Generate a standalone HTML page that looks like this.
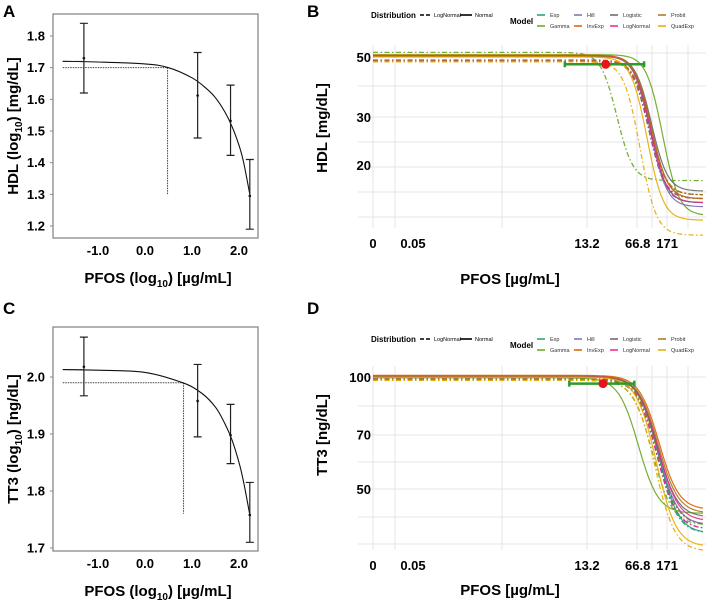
<!DOCTYPE html>
<html><head><meta charset="utf-8"><style>
html,body{margin:0;padding:0;background:#fff;}
svg{display:block;font-family:"Liberation Sans",Arial,sans-serif;}
</style></head><body>
<svg id="fig" width="708" height="600" viewBox="0 0 708 600" xmlns="http://www.w3.org/2000/svg">
<g id="pA"></g>
<g id="pB"></g>
<g id="pC"></g>
<g id="pD"></g>
</svg>
<script>
// ---------- Panel A / C data ----------
const aDoseLog = [-1.3, 1.12, 1.82, 2.23];
const aMean = [1.73, 1.612, 1.532, 1.295];
const aLow = [1.62, 1.478, 1.423, 1.19];
const aHigh = [1.84, 1.748, 1.645, 1.41];
const aCurveX = [-1.75, -1.0, 0.0, 0.5, 1.0, 1.3, 1.5, 1.7, 1.85, 2.0, 2.1, 2.23];
const aCurveY = [1.72, 1.718, 1.712, 1.70, 1.668, 1.635, 1.605, 1.56, 1.515, 1.455, 1.40, 1.30];
const aBmd = 0.48, aBmdY = 1.70, aTopY = 1.72, aBmdLow = 1.30;
const aYTicks = [1.2, 1.3, 1.4, 1.5, 1.6, 1.7, 1.8];
const xTicksLog = [-1.0, 0.0, 1.0, 2.0];

const cDoseLog = [-1.3, 1.12, 1.82, 2.23];
const cMean = [2.018, 1.958, 1.898, 1.758];
const cLow = [1.967, 1.895, 1.848, 1.71];
const cHigh = [2.07, 2.022, 1.952, 1.815];
const cCurveX = [-1.75, -1.0, 0.0, 0.8, 1.2, 1.5, 1.7, 1.85, 2.0, 2.1, 2.23];
const cCurveY = [2.013, 2.012, 2.008, 1.99, 1.972, 1.947, 1.918, 1.89, 1.85, 1.815, 1.758];
const cBmd = 0.82, cBmdY = 1.99, cTopY = 2.013, cBmdLow = 1.76;
const cYTicks = [1.7, 1.8, 1.9, 2.0];

// ---------- Panel B / D data ----------
const models = ["Exp","Gamma","Hill","InvExp","Logistic","LogNormal","Probit","QuadExp"];
const modelColors = ["#1b9e77","#66a61e","#7570b3","#d95f02","#666666","#e7298a","#a6761d","#e6ab02"];
const bTopN = [50.5, 51, 50.5, 50.8, 50.3, 50.6, 50.4, 50];
const bBotN = [14.5, 13, 14, 15, 16, 14.5, 15, 12.5];
const bMidN = [85, 125, 86, 88, 90, 86, 89, 76];
const bTopL = [48.5, 52, 48.5, 48.8, 48.3, 48.5, 48.4, 48];
const bBotL = [15, 17.5, 14.5, 15.5, 15.5, 15, 15.5, 11];
const bMidL = [82, 30, 84, 85, 86, 83, 85, 60];
const bBmd = 24, bBmdL = 6.5, bBmdU = 82, bBmdV = 47;
const bYTicks = [20, 30, 50];

const dTopN = [100, 99.5, 100.5, 101, 100, 100.5, 100.2, 99.8];
const dBotN = [38, 43, 40, 44, 42, 41, 43, 35];
const dMidN = [112, 60, 110, 116, 110, 112, 113, 103];
const dTopL = [98.5, 98, 98.5, 99, 98.5, 98.8, 98.5, 98];
const dBotL = [38, 40, 39, 40, 40, 39, 40, 34];
const dMidL = [108, 93, 106, 110, 108, 106, 108, 98];
const dBmd = 22, dBmdL = 7.5, dBmdU = 60, dBmdV = 96;
const dYTicks = [50, 70, 100];

const doseTicks = [0, 0.05, 13.2, 66.8, 171];
const doseTickLabels = ["0", "0.05", "13.2", "66.8", "171"];

// ---------- helpers ----------
const NS = "http://www.w3.org/2000/svg";
function el(parent, tag, attrs, text){
  const e = document.createElementNS(NS, tag);
  for (const k in attrs) e.setAttribute(k, attrs[k]);
  if (text !== undefined) e.textContent = text;
  parent.appendChild(e); return e;
}
function smoothPath(pts){
  let d = "M" + pts[0][0].toFixed(1) + "," + pts[0][1].toFixed(1);
  for (let i = 0; i < pts.length - 1; i++){
    const p0 = pts[Math.max(0,i-1)], p1 = pts[i], p2 = pts[i+1], p3 = pts[Math.min(pts.length-1,i+2)];
    const c1 = [p1[0]+(p2[0]-p0[0])/6, p1[1]+(p2[1]-p0[1])/6];
    const c2 = [p2[0]-(p3[0]-p1[0])/6, p2[1]-(p3[1]-p1[1])/6];
    d += " C"+c1[0].toFixed(1)+","+c1[1].toFixed(1)+" "+c2[0].toFixed(1)+","+c2[1].toFixed(1)+" "+p2[0].toFixed(1)+","+p2[1].toFixed(1);
  }
  return d;
}

function drawLeft(g, cfg){
  const x = v => 145 + v * 47;
  const y = v => cfg.y0 + (cfg.v0 - v) * cfg.k;
  let t = el(g,"text",{x:3,y:cfg.labY,"font-size":17,"font-weight":"bold"},cfg.letter);
  
  
  let f = el(g,"rect",{x:53,y:cfg.top,width:205,height:cfg.bot-cfg.top,fill:"none",stroke:"#888","stroke-width":1.3});
  
  
  cfg.yTicks.forEach(v=>{
    const tt = el(g,"text",{x:45,y:y(v)+4.5,"font-size":13,"font-weight":"bold","text-anchor":"end"},v.toFixed(1));
    
    
    el(g,"line",{x1:50,x2:53,y1:y(v),y2:y(v),stroke:"#888"});
  });
  xTicksLog.forEach(v=>{
    const tt = el(g,"text",{x:x(v),y:cfg.bot+17,"font-size":13,"font-weight":"bold","text-anchor":"middle"},v.toFixed(1));
    
    
  });
  const xt = el(g,"text",{x:158,y:cfg.bot+45,"font-size":15,"font-weight":"bold","text-anchor":"middle"});
  xt.innerHTML = 'PFOS (log<tspan font-size="10" dy="4">10</tspan><tspan dy="-4">) [µg/mL]</tspan>';
  
  
  const yt = el(g,"text",{transform:"translate(18,"+((cfg.top+cfg.bot)/2)+") rotate(-90)","font-size":15,"font-weight":"bold","text-anchor":"middle"});
  yt.innerHTML = cfg.yName+' (log<tspan font-size="10" dy="4">10</tspan><tspan dy="-4">) '+cfg.yUnit+'</tspan>';
  
  
  let l;
  l = el(g,"line",{x1:x(-1.75),x2:x(-1.3),y1:y(cfg.topY),y2:y(cfg.topY),stroke:"#444","stroke-dasharray":"1.5 1","stroke-width":1});
   
  l = el(g,"line",{x1:x(-1.75),x2:x(cfg.bmd),y1:y(cfg.bmdY),y2:y(cfg.bmdY),stroke:"#444","stroke-dasharray":"1.5 1","stroke-width":1});
   
  l = el(g,"line",{x1:x(cfg.bmd),x2:x(cfg.bmd),y1:y(cfg.bmdY),y2:y(cfg.bmdLow),stroke:"#444","stroke-dasharray":"1.5 1","stroke-width":1});
   
  const pts = cfg.cx.map((v,i)=>[x(v), y(cfg.cy[i])]);
  const p = el(g,"path",{d:smoothPath(pts),fill:"none",stroke:"#111","stroke-width":1.1});
   
  cfg.dose.forEach((d,i)=>{
    const eb = el(g,"path",{d:"M"+(x(d)-4)+","+y(cfg.hi[i])+"h8M"+x(d)+","+y(cfg.hi[i])+"V"+y(cfg.lo[i])+"M"+(x(d)-4)+","+y(cfg.lo[i])+"h8",stroke:"#222","stroke-width":1.2,fill:"none"});
     
    const c = el(g,"circle",{cx:x(d),cy:y(cfg.mean[i]),r:1.3,fill:"#111"});
     
  });
}

drawLeft(document.getElementById("pA"),{letter:"A",labY:17,top:14,bot:238,y0:36,v0:1.8,k:316.7,yTicks:aYTicks,
  yName:"HDL",yUnit:"[mg/dL]",topY:aTopY,bmd:aBmd,bmdY:aBmdY,bmdLow:aBmdLow,cx:aCurveX,cy:aCurveY,
  dose:aDoseLog,mean:aMean,lo:aLow,hi:aHigh});
drawLeft(document.getElementById("pC"),{letter:"C",labY:314,top:327,bot:551,y0:377,v0:2.0,k:570,yTicks:cYTicks,
  yName:"TT3",yUnit:"[ng/dL]",topY:cTopY,bmd:cBmd,bmdY:cBmdY,bmdLow:cBmdLow,cx:cCurveX,cy:cCurveY,
  dose:cDoseLog,mean:cMean,lo:cLow,hi:cHigh});

// ---------- right panels ----------
const xDose = d => d <= 0 ? 373 : 587 + (Math.log10(d) - Math.log10(13.2)) * 72;
const pxToDose = px => Math.pow(10, (px - 587)/72 + Math.log10(13.2));

function drawRight(g, cfg){
  const y = v => cfg.y0 + (Math.log10(cfg.v0) - Math.log10(v)) * cfg.k;
  let t = el(g,"text",{x:307,y:cfg.labY,"font-size":17,"font-weight":"bold"},cfg.letter);
   
  const gg = el(g,"g",{stroke:"#e6e6e6","stroke-width":1});
   
  [373,395,502,587,637,652,667,688].forEach(px=>el(gg,"line",{x1:px,x2:px,y1:cfg.gTop,y2:cfg.gBot}));
  cfg.hGrid.forEach(py=>el(gg,"line",{x1:358,x2:706,y1:py,y2:py}));
  cfg.yTicks.forEach(v=>{
    const tt = el(g,"text",{x:371,y:y(v)+5,"font-size":13,"font-weight":"bold","text-anchor":"end"},String(v));
     
  });
  doseTicks.forEach((d,i)=>{
    let px = i===1 ? 413 : xDose(d);
    const tt = el(g,"text",{x:px,y:cfg.tickY,"font-size":13,"font-weight":"bold","text-anchor":"middle"},doseTickLabels[i]);
     
  });
  const xt = el(g,"text",{x:510,y:cfg.titleY,"font-size":15,"font-weight":"bold","text-anchor":"middle"},"PFOS [µg/mL]");
   
  const yt = el(g,"text",{transform:"translate(327,"+cfg.yTitleY+") rotate(-90)","font-size":15,"font-weight":"bold","text-anchor":"middle"},cfg.yTitle);
   
  const sets = [[cfg.topL,cfg.botL,cfg.midL,"5 2.5 1.5 2.5",1.3,"lognormal"],[cfg.topN,cfg.botN,cfg.midN,null,1.2,"normal"]];
  sets.forEach(s=>{
    models.forEach((m,i)=>{
      const pts=[];
      for(let px=373; px<=704; px+=3){
        const d = px < 395 ? 0 : pxToDose(px);
        const v = s[1][i] + (s[0][i]-s[1][i])/(1+Math.pow(d/s[2][i], cfg.slope));
        pts.push(px.toFixed(1)+","+y(v).toFixed(1));
      }
      const a = {points:pts.join(" "),fill:"none",stroke:modelColors[i],"stroke-width":s[4],"stroke-opacity":0.9};
      if(s[3]) a["stroke-dasharray"]=s[3];
      const pl = el(g,"polyline",a);
      
      
    });
  });
  const yb = y(cfg.bmdV);
  const eb = el(g,"path",{d:"M"+xDose(cfg.bmdL)+","+(yb-3)+"v6M"+xDose(cfg.bmdL)+","+yb+"H"+xDose(cfg.bmdU)+"M"+xDose(cfg.bmdU)+","+(yb-3)+"v6",stroke:"#2e9a2e","stroke-width":2.5,fill:"none"});
   
  const c = el(g,"circle",{cx:xDose(cfg.bmd),cy:yb,r:4.5,fill:"#e8141b"});
   
  const lg = el(g,"g",{});
   
  const ly = cfg.legY;
  el(lg,"text",{x:371,y:ly+3,"font-size":8,"font-weight":"bold"},"Distribution");
  el(lg,"line",{x1:420,x2:432,y1:ly,y2:ly,stroke:"#000","stroke-width":1.6,"stroke-dasharray":"4 2"});
  el(lg,"text",{x:434,y:ly+2,"font-size":5.5},"LogNormal");
  el(lg,"line",{x1:460,x2:472,y1:ly,y2:ly,stroke:"#000","stroke-width":1.6});
  el(lg,"text",{x:475,y:ly+2,"font-size":5.5},"Normal");
  el(lg,"text",{x:510,y:ly+9,"font-size":8,"font-weight":"bold"},"Model");
  const colX = [537,574,610,658];
  models.forEach((m,i)=>{
    const cx = colX[Math.floor(i/2)], cy = ly + (i%2)*11;
    const le = el(lg,"g",{});
    
    
    el(le,"line",{x1:cx,x2:cx+8,y1:cy,y2:cy,stroke:modelColors[i],"stroke-width":1.5});
    el(le,"text",{x:cx+13,y:cy+2,"font-size":5.5,fill:"#333"},m);
  });
}

drawRight(document.getElementById("pB"),{letter:"B",labY:17,y0:57,v0:50,k:271,slope:4,yTicks:bYTicks,
  gTop:45,gBot:228,tickY:248,titleY:284,hGrid:[53,86,117,142,167,192,217],yTitle:"HDL [mg/dL]",yTitleY:128,legY:15,
  topN:bTopN,botN:bBotN,midN:bMidN,topL:bTopL,botL:bBotL,midL:bMidL,bmd:bBmd,bmdL:bBmdL,bmdU:bBmdU,bmdV:bBmdV});
drawRight(document.getElementById("pD"),{letter:"D",labY:314,y0:377,v0:100,k:372,slope:3.2,yTicks:dYTicks,
  gTop:366,gBot:550,tickY:570,titleY:595,hGrid:[377,406,435,462,489,517,544],yTitle:"TT3 [ng/dL]",yTitleY:435,legY:339,
  topN:dTopN,botN:dBotN,midN:dMidN,topL:dTopL,botL:dBotL,midL:dMidL,bmd:dBmd,bmdL:dBmdL,bmdU:dBmdU,bmdV:dBmdV});
</script>
</body></html>
